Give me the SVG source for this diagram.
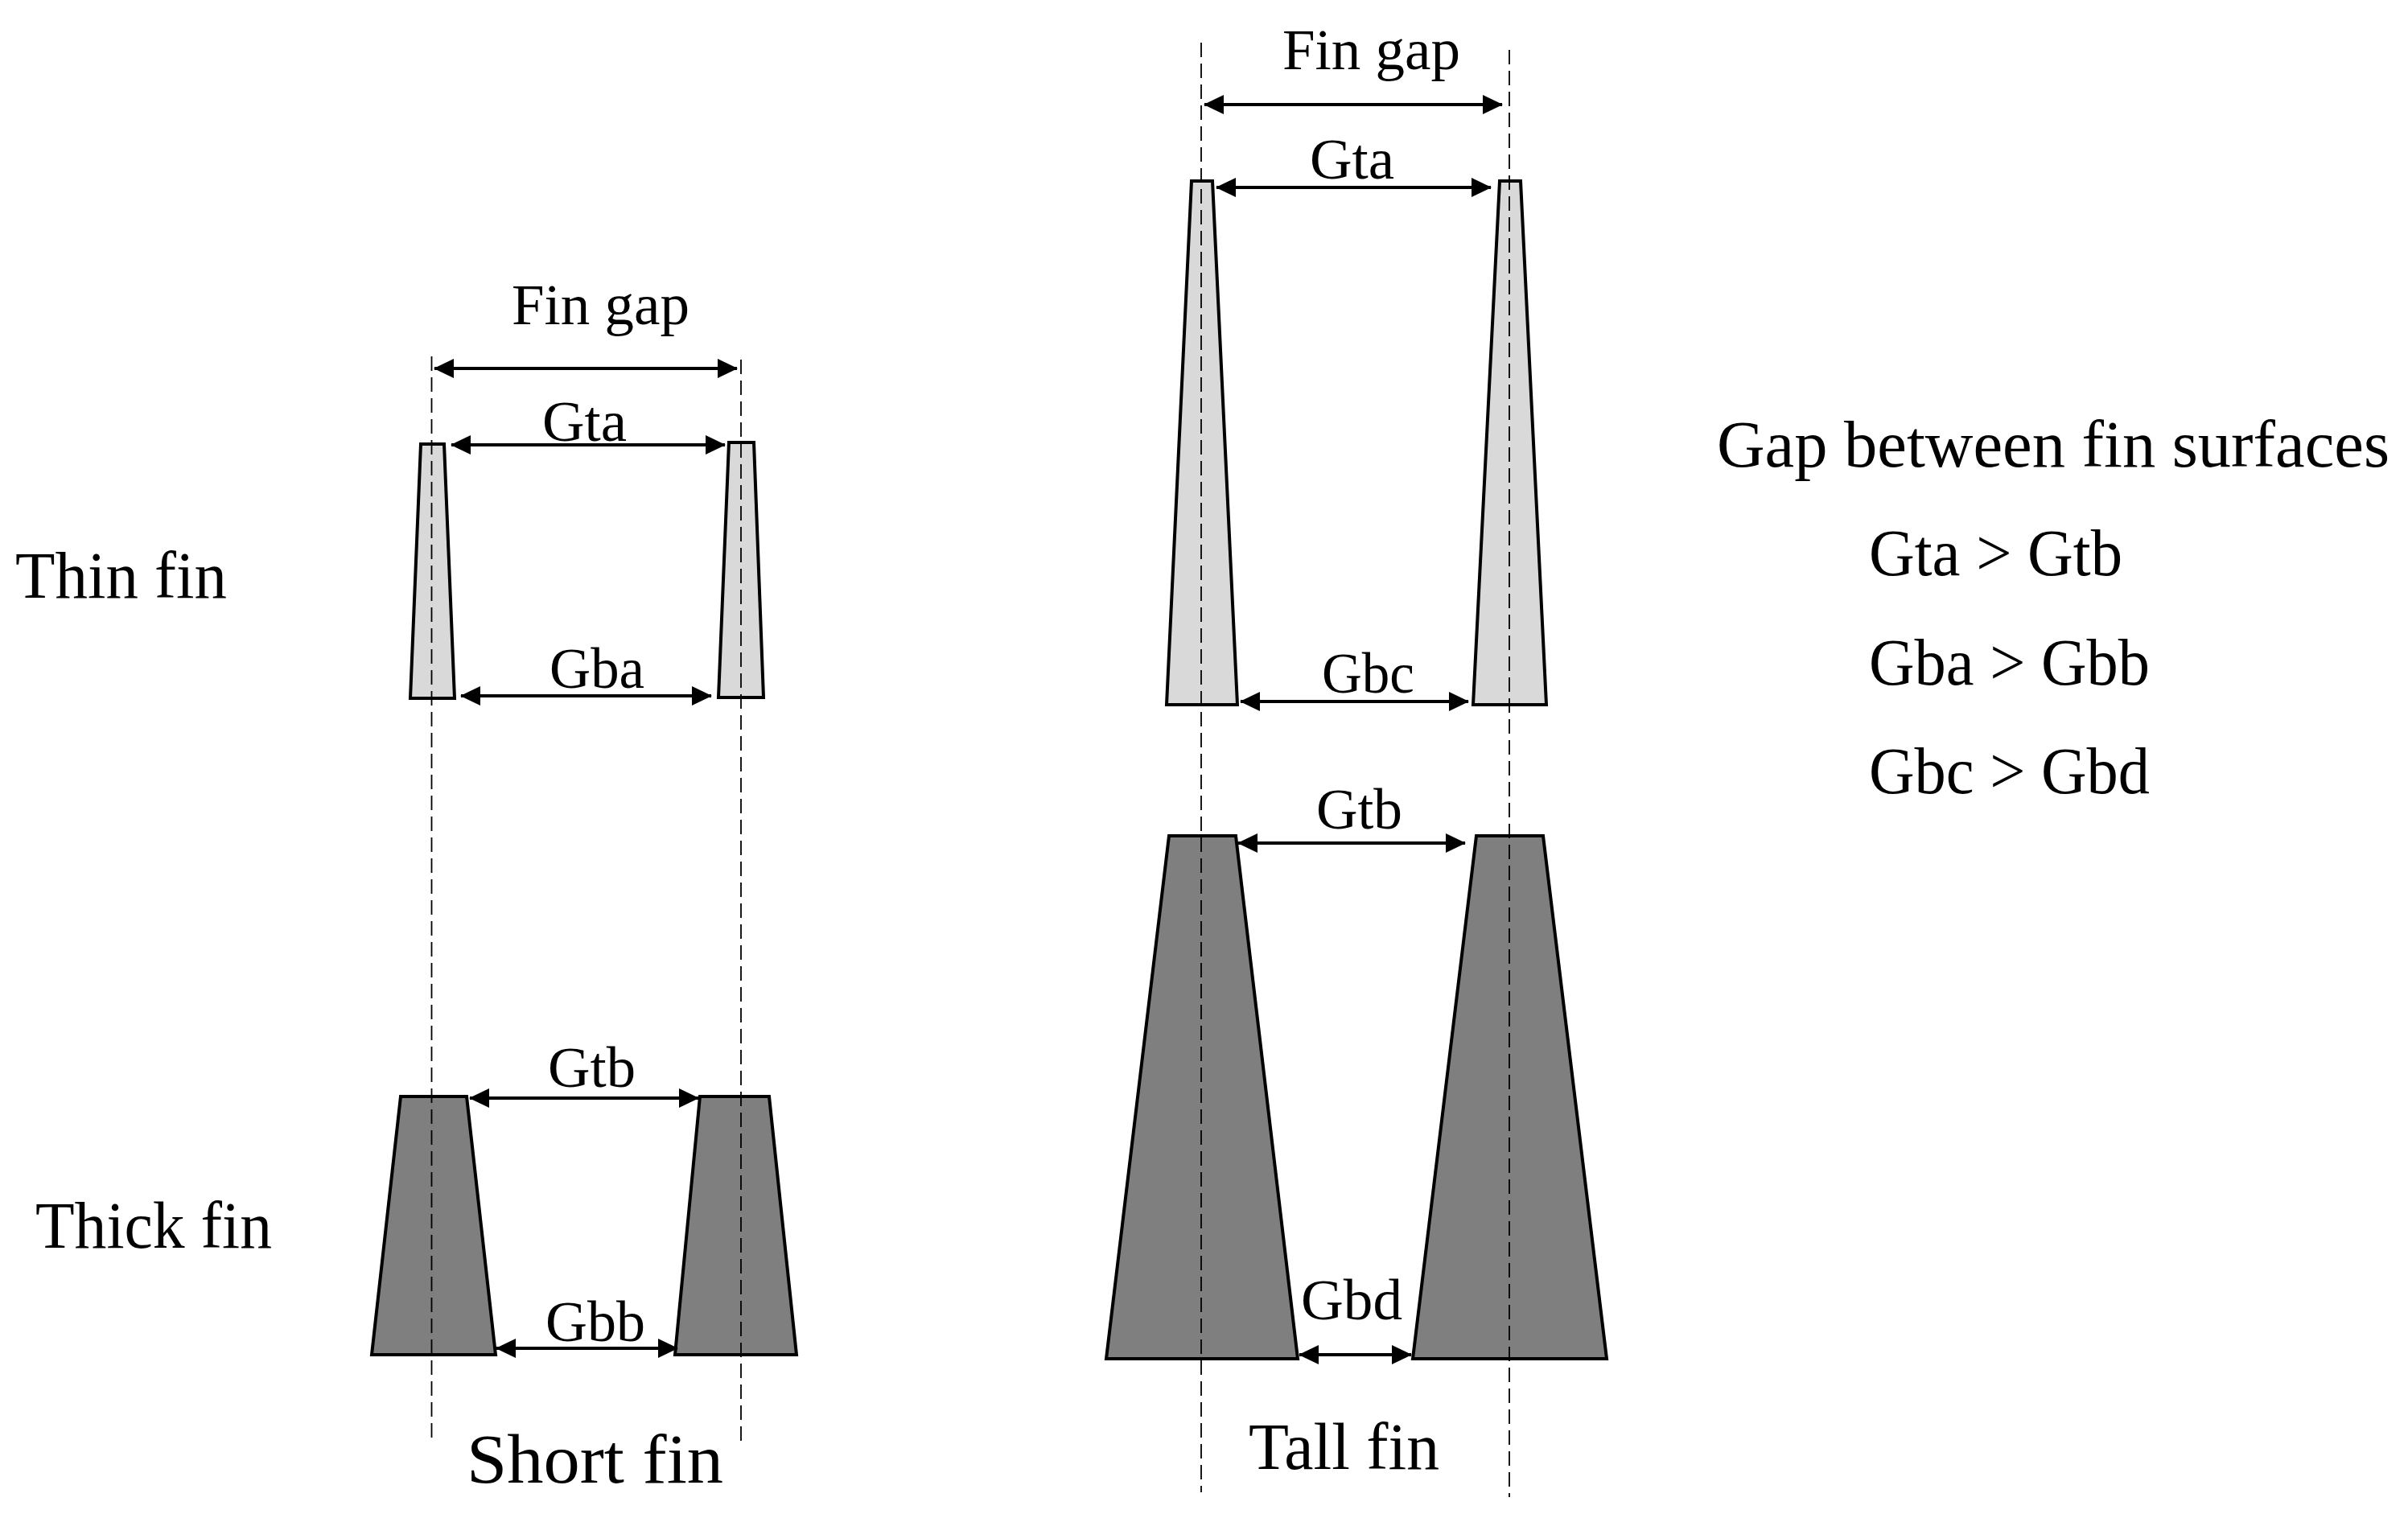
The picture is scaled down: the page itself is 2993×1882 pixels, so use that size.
<svg xmlns="http://www.w3.org/2000/svg" width="2993" height="1882" viewBox="0 0 2993 1882">
<style>
text{font-family:"Liberation Serif","Times New Roman",serif;fill:#000}
.s{font-size:71px}.m{font-size:83px}.l{font-size:87px}
.thin{fill:#d9d9d9;stroke:#000;stroke-width:4}
.thick{fill:#7f7f7f;stroke:#000;stroke-width:4}
.dash{stroke:#000;stroke-width:1.8;stroke-dasharray:18 8;fill:none}
.arr{stroke:#000;stroke-width:4;fill:none;marker-start:url(#a);marker-end:url(#a)}
</style>
<defs><marker id="a" markerUnits="userSpaceOnUse" markerWidth="26" markerHeight="26" refX="24" refY="13" orient="auto-start-reverse"><path d="M0 1L25 13L0 25Z" fill="#000"/></marker></defs>
<rect width="2993" height="1882" fill="#fff"/>
<g id="fin-short-thin-left"><polygon class="thin" points="523,552 552,552 565,868 510,868"/></g>
<g id="fin-short-thin-right"><polygon class="thin" points="906,550 937,550 949,867 893,867"/></g>
<g id="fin-short-thick-left"><polygon class="thick" points="498,1363 580,1363 616,1684 462,1684"/></g>
<g id="fin-short-thick-right"><polygon class="thick" points="870,1363 956,1363 990,1684 839,1684"/></g>
<g id="fin-tall-thin-left"><polygon class="thin" points="1481,225 1507,225 1538,876 1450,876"/></g>
<g id="fin-tall-thin-right"><polygon class="thin" points="1864,225 1890,225 1922,876 1831,876"/></g>
<g id="fin-tall-thick-left"><polygon class="thick" points="1453,1039 1536,1039 1613,1689 1375,1689"/></g>
<g id="fin-tall-thick-right"><polygon class="thick" points="1835,1039 1918,1039 1997,1689 1756,1689"/></g>
<g id="connectors">
<line class="dash" x1="536.500" y1="443" x2="536.500" y2="1790"/>
<line class="dash" x1="921" y1="447" x2="921" y2="1794"/>
<line class="dash" x1="1493" y1="53" x2="1493" y2="1855"/>
<line class="dash" x1="1876" y1="62" x2="1876" y2="1861"/>
<line class="arr" x1="540" y1="458" x2="916" y2="458"/>
<line class="arr" x1="561" y1="553" x2="901" y2="553"/>
<line class="arr" x1="573" y1="865" x2="884" y2="865"/>
<line class="arr" x1="584" y1="1365" x2="868" y2="1365"/>
<line class="arr" x1="617" y1="1676" x2="842" y2="1676"/>
<line class="arr" x1="1497" y1="130" x2="1867" y2="130"/>
<line class="arr" x1="1512" y1="233" x2="1853" y2="233"/>
<line class="arr" x1="1542" y1="872" x2="1825" y2="872"/>
<line class="arr" x1="1539" y1="1048" x2="1821" y2="1048"/>
<line class="arr" x1="1615" y1="1684" x2="1754" y2="1684"/>
</g>
<g id="labels">
<text class="s" x="636" y="403" textLength="221" lengthAdjust="spacingAndGlyphs">Fin gap</text>
<text class="s" x="674" y="548" textLength="105" lengthAdjust="spacingAndGlyphs">Gta</text>
<text class="s" x="683" y="855" textLength="118" lengthAdjust="spacingAndGlyphs">Gba</text>
<text class="s" x="681" y="1351" textLength="109" lengthAdjust="spacingAndGlyphs">Gtb</text>
<text class="s" x="678" y="1667" textLength="124" lengthAdjust="spacingAndGlyphs">Gbb</text>
<text class="s" x="1594" y="86" textLength="221" lengthAdjust="spacingAndGlyphs">Fin gap</text>
<text class="s" x="1628" y="222" textLength="105" lengthAdjust="spacingAndGlyphs">Gta</text>
<text class="s" x="1643" y="861" textLength="115" lengthAdjust="spacingAndGlyphs">Gbc</text>
<text class="s" x="1636" y="1030" textLength="107" lengthAdjust="spacingAndGlyphs">Gtb</text>
<text class="s" x="1617" y="1640" textLength="126" lengthAdjust="spacingAndGlyphs">Gbd</text>
<text class="m" x="19" y="743" textLength="263" lengthAdjust="spacingAndGlyphs">Thin fin</text>
<text class="m" x="44" y="1551" textLength="294" lengthAdjust="spacingAndGlyphs">Thick fin</text>
<text class="l" x="580" y="1843" textLength="319" lengthAdjust="spacingAndGlyphs">Short fin</text>
<text class="m" x="1552" y="1826" textLength="237" lengthAdjust="spacingAndGlyphs">Tall fin</text>
<text class="m" x="2134" y="580" textLength="836" lengthAdjust="spacingAndGlyphs">Gap between fin surfaces</text>
<text class="m" x="2323" y="715" textLength="315" lengthAdjust="spacingAndGlyphs">Gta &gt; Gtb</text>
<text class="m" x="2323" y="851" textLength="349" lengthAdjust="spacingAndGlyphs">Gba &gt; Gbb</text>
<text class="m" x="2323" y="986" textLength="349" lengthAdjust="spacingAndGlyphs">Gbc &gt; Gbd</text>
</g>
</svg>
